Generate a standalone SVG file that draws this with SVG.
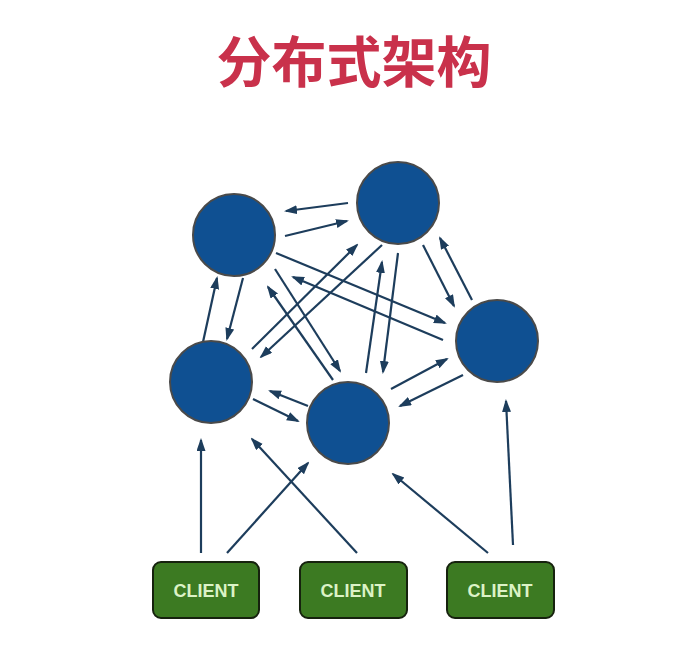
<svg xmlns="http://www.w3.org/2000/svg" width="694" height="664" viewBox="0 0 694 664">
<defs>
<marker id="ah" markerUnits="userSpaceOnUse" markerWidth="13" markerHeight="10" refX="11" refY="4.5" orient="auto">
<path d="M0,0 L13,4.5 L0,9 z" fill="#1d3d5c"/>
</marker>
<style>
.title{font-family:"Noto Sans CJK SC","Noto Sans CJK JP",sans-serif;font-weight:700;font-size:55px;fill:#c9314b}
.srv{fill:#0f5092;stroke:#4a4a4a;stroke-width:2}
.cl{fill:#3c7a22;stroke:#16220e;stroke-width:2}
.clt{font-family:"Liberation Sans",Arial,sans-serif;font-weight:700;font-size:18px;fill:#dcf3c6;text-anchor:middle}
.conn line{stroke:#1d3d5c;stroke-width:2.2;marker-end:url(#ah)}
</style>
</defs>
<rect width="694" height="664" fill="#ffffff"/>
<text class="title" x="354" y="82" text-anchor="middle">分布式架构</text>
<g id="connectors" class="conn">
<line x1="348" y1="203" x2="286" y2="211"/>
<line x1="285" y1="236" x2="347" y2="221"/>
<line x1="276" y1="253" x2="445" y2="323"/>
<line x1="443" y1="340" x2="293" y2="277"/>
<line x1="275" y1="269" x2="340" y2="371"/>
<line x1="333" y1="380" x2="268" y2="287"/>
<line x1="252" y1="349" x2="357" y2="245"/>
<line x1="382" y1="245" x2="261" y2="357"/>
<line x1="366" y1="373" x2="382" y2="262"/>
<line x1="398" y1="253" x2="383" y2="372"/>
<line x1="423" y1="245" x2="454" y2="306"/>
<line x1="472" y1="300" x2="440" y2="238"/>
<line x1="203" y1="342" x2="217" y2="278"/>
<line x1="243" y1="278" x2="227" y2="339"/>
<line x1="391" y1="389" x2="447" y2="359"/>
<line x1="463" y1="375" x2="400" y2="406"/>
<line x1="308" y1="406" x2="270" y2="391"/>
<line x1="253" y1="399" x2="298" y2="421"/>
<line x1="201" y1="553" x2="201" y2="440"/>
<line x1="227" y1="553" x2="308" y2="463"/>
<line x1="357" y1="553" x2="252" y2="439"/>
<line x1="488" y1="553" x2="393" y2="474"/>
<line x1="513" y1="545" x2="506" y2="401"/>
</g>
<g id="node-a"><circle class="srv" cx="234" cy="235" r="41"/></g>
<g id="node-b"><circle class="srv" cx="398" cy="203" r="41"/></g>
<g id="node-c"><circle class="srv" cx="497" cy="341" r="41"/></g>
<g id="node-d"><circle class="srv" cx="211" cy="382" r="41"/></g>
<g id="node-e"><circle class="srv" cx="348" cy="423" r="41"/></g>
<g id="client-1"><rect class="cl" x="153" y="562" width="106" height="56" rx="8"/><text class="clt" x="206" y="597">CLIENT</text></g>
<g id="client-2"><rect class="cl" x="300" y="562" width="107" height="56" rx="8"/><text class="clt" x="353" y="597">CLIENT</text></g>
<g id="client-3"><rect class="cl" x="447" y="562" width="107" height="56" rx="8"/><text class="clt" x="500" y="597">CLIENT</text></g>
</svg>
